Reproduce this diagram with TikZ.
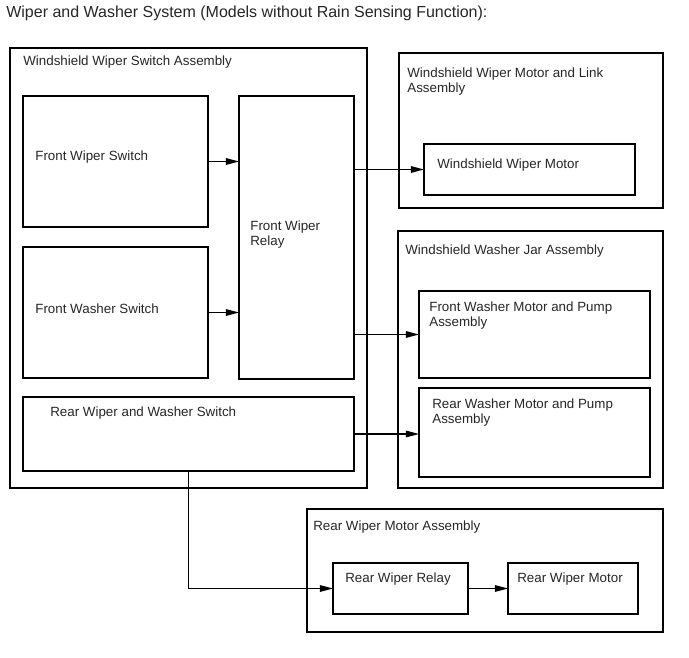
\documentclass[tikz,border=0pt]{standalone}
\usepackage{fontspec}
\setmainfont{Liberation Sans}
\usetikzlibrary{arrows.meta}

\begin{document}
\begin{tikzpicture}[
    x=0.2mm, y=-0.2mm,
    >={Triangle[length=7.5pt, width=3.8pt]},
    box/.style 2 args={draw, line width=0.6pt, anchor=north west, inner sep=0pt, outer sep=0pt,
        minimum width=#1*0.2mm, minimum height=#2*0.2mm},
    txt/.style={anchor=base west, inner sep=0pt, align=left, text=black!85,
        font=\fontsize{7.6}{9.1}\selectfont},
    heading/.style={anchor=base west, inner sep=0pt, text=black!85, font=\fontsize{9.1}{11}\selectfont},
    wire/.style={->, line width=0.6pt}
]
    \useasboundingbox (0,0) rectangle (689,658);

    \node[heading] (title) at (6,17.5) {Wiper and Washer System (Models without Rain Sensing Function):};

    % switch assembly
    \node[box={357}{440}] (swasm) at (10,48) {};
    \node[box={185}{131}] (fws) at (23,96) {};
    \node[box={185}{131}] (fwas) at (23,247) {};
    \node[box={115}{283}] (relay) at (239,96) {};
    \node[box={331}{74}] (rwws) at (23,397) {};
    \node[txt] (swasmtxt) at (23,66) {Windshield Wiper Switch Assembly};
    \node[txt] (fwstxt) at (35,161) {Front Wiper Switch};
    \node[txt] (fwastxt) at (35,314) {Front Washer Switch};
    \node[txt] (relaytxt) at (250,246) {Front Wiper\\Relay};
    \node[txt] (rwwstxt) at (50,417) {Rear Wiper and Washer Switch};

    % wiper motor and link
    \node[box={264}{155}] (linkasm) at (399,53) {};
    \node[box={211}{51}] (wwm) at (424,144) {};
    \node[txt] (linkasmtxt) at (407,93) {Windshield Wiper Motor and Link\\Assembly};
    \node[txt] (wwmtxt) at (437,169) {Windshield Wiper Motor};

    % washer jar
    \node[box={265}{257}] (jar) at (398,231) {};
    \node[box={231}{87}] (fwmp) at (419,291) {};
    \node[box={231}{89}] (rwmp) at (419,388) {};
    \node[txt] (jartxt) at (405,255) {Windshield Washer Jar Assembly};
    \node[txt] (fwmptxt) at (429,327) {Front Washer Motor and Pump\\Assembly};
    \node[txt] (rwmptxt) at (432,424) {Rear Washer Motor and Pump\\Assembly};

    % rear wiper motor
    \node[box={356}{123}] (rearasm) at (307,509) {};
    \node[box={135}{51}] (rrelay) at (333,563) {};
    \node[box={130}{51}] (rmotor) at (508,563) {};
    \node[txt] (rearasmtxt) at (313,531) {Rear Wiper Motor Assembly};
    \node[txt] (rrelaytxt) at (345,583) {Rear Wiper Relay};
    \node[txt] (rmotortxt) at (517,583) {Rear Wiper Motor};

    % connections
    \draw[wire] (fws.east) -- (fws.east -| relay.west);
    \draw[wire] (fwas.east) -- (fwas.east -| relay.west);
    \draw[wire] (relay.east |- wwm.west) -- (wwm.west);
    \draw[wire] (relay.east |- fwmp.west) -- (fwmp.west);
    \draw[wire] (rwws.east) -- (rwws.east -| rwmp.west);
    \draw[wire] (rwws.south) |- (rrelay.west);
    \draw[wire] (rrelay.east) -- (rmotor.west);
\end{tikzpicture}
\end{document}
